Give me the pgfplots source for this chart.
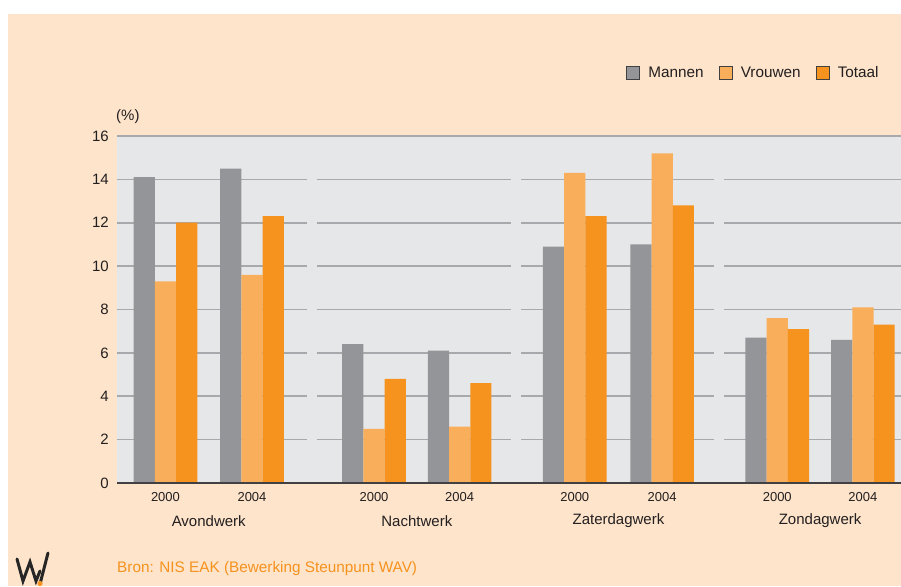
\documentclass[border=0pt]{standalone}
\usepackage{pgfplots}
\pgfplotsset{compat=1.18}
\usepackage{fontspec}
\setmainfont{Liberation Sans}
\definecolor{peach}{HTML}{FDE4CA}
\definecolor{plotbg}{HTML}{E6E7E8}
\definecolor{gridc}{HTML}{A7A9AC}
\definecolor{mannen}{HTML}{939598}
\definecolor{vrouwen}{HTML}{F9AE5B}
\definecolor{totaal}{HTML}{F6921E}
\definecolor{txt}{HTML}{231F20}
\definecolor{axisc}{HTML}{414042}
\begin{document}
\begin{tikzpicture}[x=1pt,y=1pt]
\useasboundingbox (0,0) rectangle (901,586);
\fill[white] (0,0) rectangle (901,586);
\fill[peach] (8,0) rectangle (901,572);
\begin{axis}[
  at={(117pt,103pt)}, anchor=south west,
  scale only axis, width=784pt, height=347pt,
  xmin=-0.56, xmax=8.5, ymin=0, ymax=16,
  axis background/.style={fill=plotbg},
  axis line style={draw=none},
  major tick length=0pt,
  ytick={0,2,...,16},
  xtick={0,1,2.41,3.4,4.73,5.74,7.07,8.06},
  xticklabels={2000,2004,2000,2004,2000,2004,2000,2004},
  /pgf/number format/assume math mode=true,
  yticklabel style={font=\fontsize{15}{17}\selectfont, text=txt, anchor=east, inner sep=0pt, xshift=-8pt},
  xticklabel style={font=\fontsize{13}{15}\selectfont, text=txt, anchor=north, inner sep=0pt, yshift=-9pt},
  ybar=0pt, bar width=0.245,
  legend columns=3,
  legend style={at={(0.9755,1.181)}, anchor=east, draw=none, fill=none,
    font=\fontsize{15.3}{17}\selectfont, text=txt,
    /tikz/every odd column/.append style={column sep=8pt},
    /tikz/every even column/.append style={column sep=15pt},
    nodes={inner sep=0pt}},
  legend image code/.code={\draw[#1, draw=black!75, line width=1.1pt] (0pt,-6.5pt) rectangle (13pt,6.5pt);},
  clip=false,
]
\pgfplotsinvokeforeach{2,4,6,8,10,12,14}{
  \draw[gridc, line width=1.6pt] (axis cs:-0.56,#1) -- (axis cs:1.636,#1);
  \draw[gridc, line width=1.6pt] (axis cs:1.749,#1) -- (axis cs:3.994,#1);
  \draw[gridc, line width=1.6pt] (axis cs:4.110,#1) -- (axis cs:6.341,#1);
  \draw[gridc, line width=1.6pt] (axis cs:6.457,#1) -- (axis cs:8.5,#1);
}
\draw[gridc, line width=2pt] (axis cs:-0.56,16) -- (axis cs:8.5,16);
\addplot[fill=mannen, draw=none] coordinates {(0,14.1) (1,14.5) (2.41,6.4) (3.4,6.1) (4.73,10.9) (5.74,11.0) (7.07,6.7) (8.06,6.6)};
\addplot[fill=vrouwen, draw=none] coordinates {(0,9.3) (1,9.6) (2.41,2.5) (3.4,2.6) (4.73,14.3) (5.74,15.2) (7.07,7.6) (8.06,8.1)};
\addplot[fill=totaal, draw=none] coordinates {(0,12.0) (1,12.3) (2.41,4.8) (3.4,4.6) (4.73,12.3) (5.74,12.8) (7.07,7.1) (8.06,7.3)};
\legend{Mannen,Vrouwen,Totaal}
\draw[axisc, line width=2pt] (axis cs:-0.56,0) -- (axis cs:8.5,0);
\node[font=\fontsize{15}{17}\selectfont, text=txt] at (axis cs:0.5,0) [yshift=-38pt] {Avondwerk};
\node[font=\fontsize{15}{17}\selectfont, text=txt] at (axis cs:2.905,0) [yshift=-38pt] {Nachtwerk};
\node[font=\fontsize{15}{17}\selectfont, text=txt] at (axis cs:5.235,0) [yshift=-38pt] {Zaterdagwerk};
\node[font=\fontsize{15}{17}\selectfont, text=txt] at (axis cs:7.565,0) [yshift=-38pt] {Zondagwerk};
\end{axis}
\node[anchor=west, inner sep=0pt, font=\fontsize{15}{17}\selectfont, text=txt] at (116,469) {(\%)};
\node[anchor=west, inner sep=0pt, font=\fontsize{15.3}{17}\selectfont, text=totaal] at (117,17) {Bron: NIS EAK (Bewerking Steunpunt WAV)};
\draw[black!85, line width=3pt, line join=miter, line cap=round] (17,27) -- (23,5) -- (30,24) -- (36,5) -- (40,15);
\draw[black!85, line width=3pt, line cap=round] (40,2) -- (48,33);
\fill[totaal] (40,2.5) circle (2.6);
\end{tikzpicture}
\end{document}
